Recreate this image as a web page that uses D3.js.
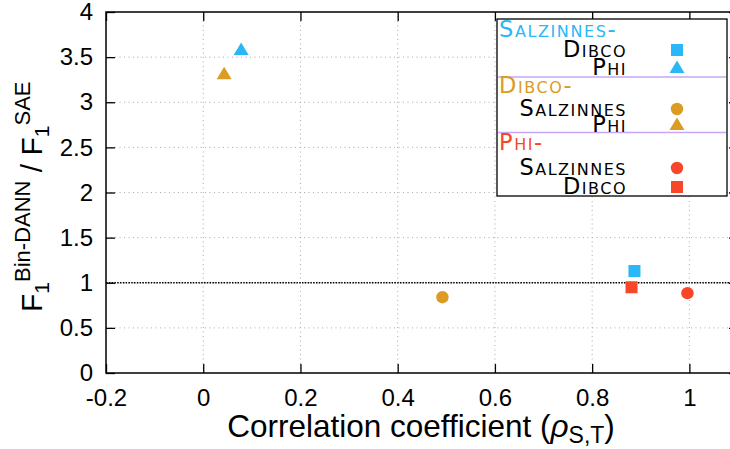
<!DOCTYPE html>
<html>
<head>
<meta charset="utf-8">
<script src="https://cdn.jsdelivr.net/npm/d3@7"></script>
<style>
  body { margin: 0; background: #fff; }
  svg { display: block; }
  text { font-family: "Liberation Sans", Arial, sans-serif; }
  .leg text { font-family: "DejaVu Sans", sans-serif; font-variant: small-caps; }
</style>
</head>
<body>
<svg width="730" height="449"></svg>
<script>
// one point per source-target pair
const sources = ["Salzinnes", "Salzinnes", "Dibco", "Dibco", "Phi", "Phi"];
const targets = ["Dibco", "Phi", "Salzinnes", "Phi", "Salzinnes", "Dibco"];
const rho = [0.887, 0.078, 0.492, 0.043, 0.996, 0.881];
const ratio = [1.13, 3.58, 0.84, 3.31, 0.885, 0.95];
const shapes = ["square", "triangle", "circle", "triangle", "circle", "square"];

const xTicks = [-0.2, 0, 0.2, 0.4, 0.6, 0.8, 1];
const yTicks = [0, 0.5, 1, 1.5, 2, 2.5, 3, 3.5, 4];
const groupColor = {Salzinnes: "#2ab7f7", Dibco: "#dc9b22", Phi: "#f7462a"};

const svg = d3.select("svg");
const pL = 106, pR = 738, pT = 12, pB = 373;

const x = d3.scaleLinear().domain([-0.2, 1.1]).range([pL, pR]);
const y = d3.scaleLinear().domain([0, 4]).range([pB, pT]);

// grid
svg.append("g").selectAll("line").data(xTicks.slice(1)).enter().append("line")
  .attr("x1", d => x(d)).attr("x2", d => x(d))
  .attr("y1", pT).attr("y2", pB)
  .attr("stroke", "#aaa").attr("stroke-width", 1).attr("stroke-dasharray", "1,3.5");
svg.append("g").selectAll("line").data(yTicks.slice(1, -1)).enter().append("line")
  .attr("x1", pL).attr("x2", pR)
  .attr("y1", d => y(d)).attr("y2", d => y(d))
  .attr("stroke", "#aaa").attr("stroke-width", 1).attr("stroke-dasharray", "1,3.5");

// reference line at 1
svg.append("line")
  .attr("x1", pL).attr("x2", pR).attr("y1", y(1)).attr("y2", y(1))
  .attr("stroke", "#000").attr("stroke-width", 1.5).attr("stroke-dasharray", "1.5,1.3");

// axes, ticks inward, mirrored
const axB = svg.append("g").attr("transform", `translate(0,${pB})`)
  .call(d3.axisBottom(x).tickValues(xTicks).tickSize(-9).tickPadding(16).tickFormat(d => String(d)));
const axT = svg.append("g").attr("transform", `translate(0,${pT})`)
  .call(d3.axisTop(x).tickValues(xTicks).tickSize(-9).tickFormat(""));
const axL = svg.append("g").attr("transform", `translate(${pL},0)`)
  .call(d3.axisLeft(y).tickValues(yTicks).tickSize(-9).tickPadding(13).tickFormat(d => String(d)));
const axR = svg.append("g").attr("transform", `translate(${pR},0)`)
  .call(d3.axisRight(y).tickValues(yTicks).tickSize(-9).tickFormat(""));
[axB, axT, axL, axR].forEach(g => {
  g.select(".domain").remove();
  g.selectAll("line").attr("stroke", "#000").attr("stroke-width", 1.3);
  g.selectAll("text").attr("font-size", 24).attr("fill", "#000")
    .attr("font-family", "Liberation Sans, Arial, sans-serif");
});
axB.selectAll("text").attr("dy", "0.71em");

svg.append("rect").attr("x", pL).attr("y", pT)
  .attr("width", pR - pL).attr("height", pB - pT)
  .attr("fill", "none").attr("stroke", "#000").attr("stroke-width", 1.5);

// axis labels
const xl = svg.append("text").attr("x", (pL + pR) / 2 - 1).attr("y", 437)
  .attr("text-anchor", "middle").attr("font-size", 31.5);
xl.append("tspan").text("Correlation coefficient (");
xl.append("tspan").text("ρ").attr("font-style", "italic");
xl.append("tspan").text("S,T").attr("font-size", 23).attr("dy", 6);
xl.append("tspan").text(")").attr("dy", -6);

const yl = svg.append("text").attr("transform", "translate(42,312) rotate(-90)")
  .attr("font-size", 30);
yl.append("tspan").text("F");
yl.append("tspan").text("1").attr("font-size", 21).attr("dy", 7);
yl.append("tspan").text("Bin-DANN").attr("font-size", 22).attr("dy", -19);
yl.append("tspan").text(" / F").attr("dy", 12);
yl.append("tspan").text("1").attr("font-size", 21).attr("dy", 7);
yl.append("tspan").text("SAE").attr("font-size", 22).attr("dy", -19);

// markers
function marker(sel, shape, cx, cy) {
  if (shape === "square") {
    sel.append("rect").attr("x", cx - 6).attr("y", cy - 6).attr("width", 12).attr("height", 12);
  } else if (shape === "circle") {
    sel.append("circle").attr("cx", cx).attr("cy", cy).attr("r", 6.2);
  } else {
    sel.append("path").attr("d", `M${cx},${cy - 7.5}L${cx + 7.5},${cy + 5}L${cx - 7.5},${cy + 5}Z`);
  }
}

const pts = svg.append("g");
rho.forEach((r, i) => {
  const g = pts.append("g").attr("fill", groupColor[sources[i]]);
  marker(g, shapes[i], x(r), y(ratio[i]));
});

// legend
const leg = svg.append("g").attr("class", "leg");
leg.append("rect").attr("x", 497).attr("y", 19).attr("width", 230).attr("height", 177)
  .attr("fill", "#fff").attr("stroke", "#000").attr("stroke-width", 1.3);

const groups = ["Salzinnes", "Dibco", "Phi"];
const headY = [37, 93, 150];
const rowY = [[57, 75], [116, 132], [175, 194]];
const sepY = [77, 132.5];
sepY.forEach(s => leg.append("line").attr("x1", 498).attr("x2", 726)
  .attr("y1", s).attr("y2", s).attr("stroke", "#c9a6f5").attr("stroke-width", 1.5));

groups.forEach((grp, gi) => {
  leg.append("text").attr("x", 499).attr("y", headY[gi])
    .attr("fill", groupColor[grp]).attr("font-size", 22.5).attr("letter-spacing", 1.6)
    .text(grp + "-");
  let k = 0;
  sources.forEach((s, i) => {
    if (s !== grp) return;
    const ty = rowY[gi][k++];
    leg.append("text").attr("x", 627).attr("y", ty).attr("text-anchor", "end")
      .attr("fill", "#000").attr("font-size", 22.5).attr("letter-spacing", 1.5)
      .text(targets[i]);
    const m = leg.append("g").attr("fill", groupColor[grp]);
    marker(m, shapes[i], 677, ty - 7);
  });
});
</script>
</body>
</html>
